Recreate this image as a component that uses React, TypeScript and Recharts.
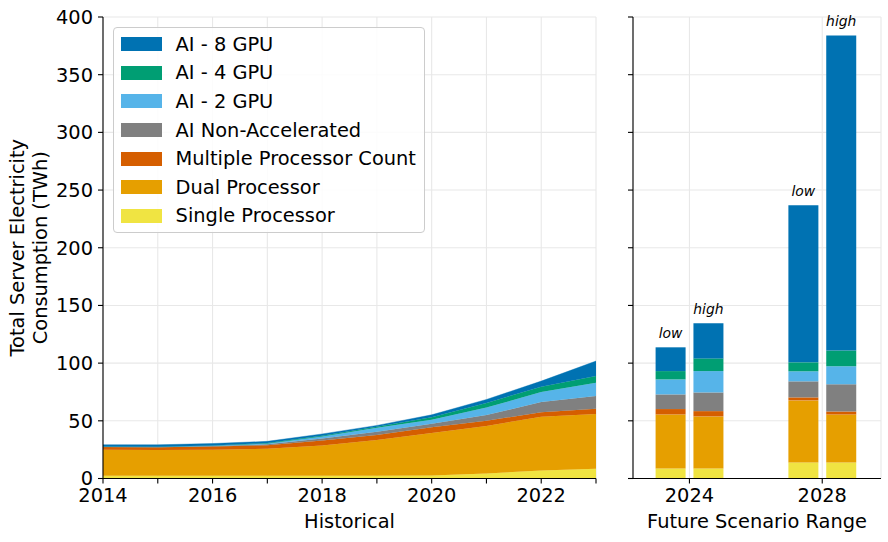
import React from "react";
import {
  AreaChart,
  Area,
  BarChart,
  Bar,
  XAxis,
  YAxis,
  CartesianGrid,
  Legend,
  LabelList,
  Label,
} from "recharts";

// Historical years and per-category consumption (TWh)
const years = [2014, 2015, 2016, 2017, 2018, 2019, 2020, 2021, 2022, 2023];
const singleProc = [2.3, 2.3, 2.3, 2.3, 2.3, 2.4, 2.6, 4.3, 6.9, 8.4];
const dualProc = [22.7, 22.5, 22.7, 23.4, 26.3, 30.9, 36.9, 41.2, 46.6, 47.6];
const multiProc = [2.2, 2.2, 2.8, 3.1, 4.4, 4.3, 5.0, 4.5, 4.0, 4.5];
const aiNonAccel = [0.3, 0.3, 0.4, 0.8, 1.6, 2.9, 3.0, 5.0, 8.7, 10.9];
const ai2Gpu = [0.2, 0.2, 0.3, 0.7, 1.7, 3.5, 3.5, 6.5, 8.7, 11.6];
const ai4Gpu = [0.1, 0.1, 0.2, 0.4, 0.7, 0.8, 2.0, 4.0, 4.6, 5.8];
const ai8Gpu = [1.5, 1.6, 1.6, 1.5, 1.6, 1.2, 2.2, 3.0, 4.9, 13.0];

// Future scenarios
const scenarioYears = [2024, 2024, 2028, 2028];
const scenarioNames = ["low", "high", "low", "high"];
const scSingle = [8.7, 8.7, 13.9, 13.9];
const scDual = [46.8, 45.1, 53.8, 41.6];
const scMulti = [4.7, 4.6, 2.6, 2.6];
const scNonAccel = [12.7, 16.2, 13.9, 23.5];
const sc2Gpu = [13.0, 18.5, 8.7, 15.6];
const sc4Gpu = [7.2, 11.0, 7.8, 13.8];
const sc8Gpu = [20.6, 30.4, 136.2, 273.0];

const yTicks = [0, 50, 100, 150, 200, 250, 300, 350, 400];
const futureTicks = [2024, 2028];

const series = [
  { key: "single", name: "Single Processor", color: "#F0E442" },
  { key: "dual", name: "Dual Processor", color: "#E69F00" },
  { key: "multi", name: "Multiple Processor Count", color: "#D55E00" },
  { key: "nonAccel", name: "AI Non-Accelerated", color: "#808080" },
  { key: "gpu2", name: "AI - 2 GPU", color: "#56B4E9" },
  { key: "gpu4", name: "AI - 4 GPU", color: "#009E73" },
  { key: "gpu8", name: "AI - 8 GPU", color: "#0072B2" },
];

const historicalData = years.map((year, i) => ({
  year,
  single: singleProc[i],
  dual: dualProc[i],
  multi: multiProc[i],
  nonAccel: aiNonAccel[i],
  gpu2: ai2Gpu[i],
  gpu4: ai4Gpu[i],
  gpu8: ai8Gpu[i],
}));

// low bar sits left of the year tick, high bar right of it
const scenarioData = scenarioYears.map((year, i) => ({
  x: year + (scenarioNames[i] === "low" ? -0.57 : 0.57),
  scenario: scenarioNames[i],
  single: scSingle[i],
  dual: scDual[i],
  multi: scMulti[i],
  nonAccel: scNonAccel[i],
  gpu2: sc2Gpu[i],
  gpu4: sc4Gpu[i],
  gpu8: sc8Gpu[i],
}));

const FONT = "DejaVu Sans, sans-serif";
const FS = 19.4;
const GRID = "#e8e8e8";
const tickStyle = { fill: "#000", fontSize: FS, fontFamily: FONT };
const lineStyle = { stroke: "#000", strokeWidth: 1.1 };

const LegendBox = () => (
  <div
    style={{
      width: 312,
      height: 206,
      boxSizing: "border-box",
      border: "1px solid #cccccc",
      borderRadius: 4,
      background: "rgba(255,255,255,0.85)",
      paddingTop: 2,
      fontFamily: FONT,
      fontSize: FS,
      color: "#000",
    }}
  >
    {[...series].reverse().map((s) => (
      <div
        key={s.key}
        style={{ height: 28.6, display: "flex", alignItems: "center" }}
      >
        <span
          style={{
            display: "inline-block",
            width: 40.6,
            height: 14,
            marginLeft: 7,
            background: s.color,
          }}
        />
        <span style={{ marginLeft: 14, whiteSpace: "nowrap" }}>{s.name}</span>
      </div>
    ))}
  </div>
);

const App: React.FC = () => {
  return (
    <div
      style={{
        position: "absolute",
        left: 0,
        top: 0,
        width: 888,
        height: 542,
        background: "#fff",
      }}
    >
      <div style={{ position: "absolute", left: 0, top: 0 }}>
        <AreaChart
          width={600}
          height={542}
          data={historicalData}
          margin={{ top: 17, right: 4, bottom: 0, left: 0 }}
        >
          <CartesianGrid stroke={GRID} strokeWidth={1.1} />
          {series.map((s) => (
            <Area
              key={s.key}
              dataKey={s.key}
              name={s.name}
              stackId="hist"
              type="linear"
              fill={s.color}
              fillOpacity={1}
              stroke={s.color}
              strokeWidth={0.4}
              dot={false}
              activeDot={false}
              isAnimationActive={false}
            />
          ))}
          <XAxis
            dataKey="year"
            type="number"
            domain={[2014, 2023]}
            ticks={years}
            interval={0}
            tickFormatter={(y: number) => (y % 2 === 0 ? String(y) : "")}
            height={63.5}
            tickSize={5}
            tickMargin={5}
            axisLine={lineStyle}
            tickLine={lineStyle}
            tick={tickStyle}
            label={{
              value: "Historical",
              position: "insideBottom",
              offset: 14.2,
              fill: "#000",
              fontSize: FS,
              fontFamily: FONT,
            }}
          />
          <YAxis
            type="number"
            domain={[0, 400]}
            ticks={yTicks}
            interval={0}
            width={103}
            tickSize={5}
            tickMargin={5}
            axisLine={lineStyle}
            tickLine={lineStyle}
            tick={tickStyle}
          >
            <Label
              value="Total Server Electricity"
              angle={-90}
              position="insideLeft"
              offset={17.1}
              fill="#000"
              fontSize={FS}
              fontFamily={FONT}
              style={{ textAnchor: "middle" }}
            />
            <Label
              value="Consumption (TWh)"
              angle={-90}
              position="insideLeft"
              offset={40.1}
              fill="#000"
              fontSize={FS}
              fontFamily={FONT}
              style={{ textAnchor: "middle" }}
            />
          </YAxis>
          <XAxis
            xAxisId="top"
            orientation="top"
            dataKey="year"
            type="number"
            domain={[2014, 2023]}
            height={0}
            tick={false}
            tickLine={false}
            axisLine={lineStyle}
          />
          <YAxis
            yAxisId="right"
            orientation="right"
            type="number"
            domain={[0, 400]}
            width={0}
            tick={false}
            tickLine={false}
            axisLine={lineStyle}
          />
          <Legend
            layout="vertical"
            align="center"
            verticalAlign="middle"
            content={() => <LegendBox />}
            wrapperStyle={{ left: 113, top: 27, width: 312, height: 206 }}
          />
        </AreaChart>
      </div>

      <div style={{ position: "absolute", left: 600, top: 0 }}>
        <BarChart
          width={288}
          height={542}
          data={scenarioData}
          margin={{ top: 17, right: 7, bottom: 0, left: 0 }}
          barSize={30}
        >
          <CartesianGrid stroke={GRID} strokeWidth={1.1} />
          {series.map((s, i) => (
            <Bar
              key={s.key}
              dataKey={s.key}
              name={s.name}
              stackId="future"
              fill={s.color}
              isAnimationActive={false}
            >
              {i === series.length - 1 && (
                <LabelList
                  dataKey="scenario"
                  position="top"
                  offset={9}
                  fill="#000"
                  fontSize={13.9}
                  fontFamily={FONT}
                  fontStyle="italic"
                />
              )}
            </Bar>
          ))}
          <XAxis
            dataKey="x"
            type="number"
            domain={[2022.3, 2029.77]}
            ticks={futureTicks}
            interval={0}
            allowDataOverflow
            height={63.5}
            tickSize={5}
            tickMargin={5}
            axisLine={lineStyle}
            tickLine={lineStyle}
            tick={tickStyle}
            label={{
              value: "Future Scenario Range",
              position: "insideBottom",
              offset: 14.2,
              fill: "#000",
              fontSize: FS,
              fontFamily: FONT,
            }}
          />
          <YAxis
            type="number"
            domain={[0, 400]}
            ticks={yTicks}
            interval={0}
            width={33}
            tickSize={5}
            tickFormatter={() => ""}
            axisLine={lineStyle}
            tickLine={lineStyle}
            tick={tickStyle}
          />
          <XAxis
            xAxisId="top"
            orientation="top"
            dataKey="x"
            type="number"
            domain={[2022.3, 2029.77]}
            allowDataOverflow
            height={0}
            tick={false}
            tickLine={false}
            axisLine={lineStyle}
          />
          <YAxis
            yAxisId="right"
            orientation="right"
            type="number"
            domain={[0, 400]}
            width={0}
            tick={false}
            tickLine={false}
            axisLine={lineStyle}
          />
        </BarChart>
      </div>
    </div>
  );
};

export default App;
